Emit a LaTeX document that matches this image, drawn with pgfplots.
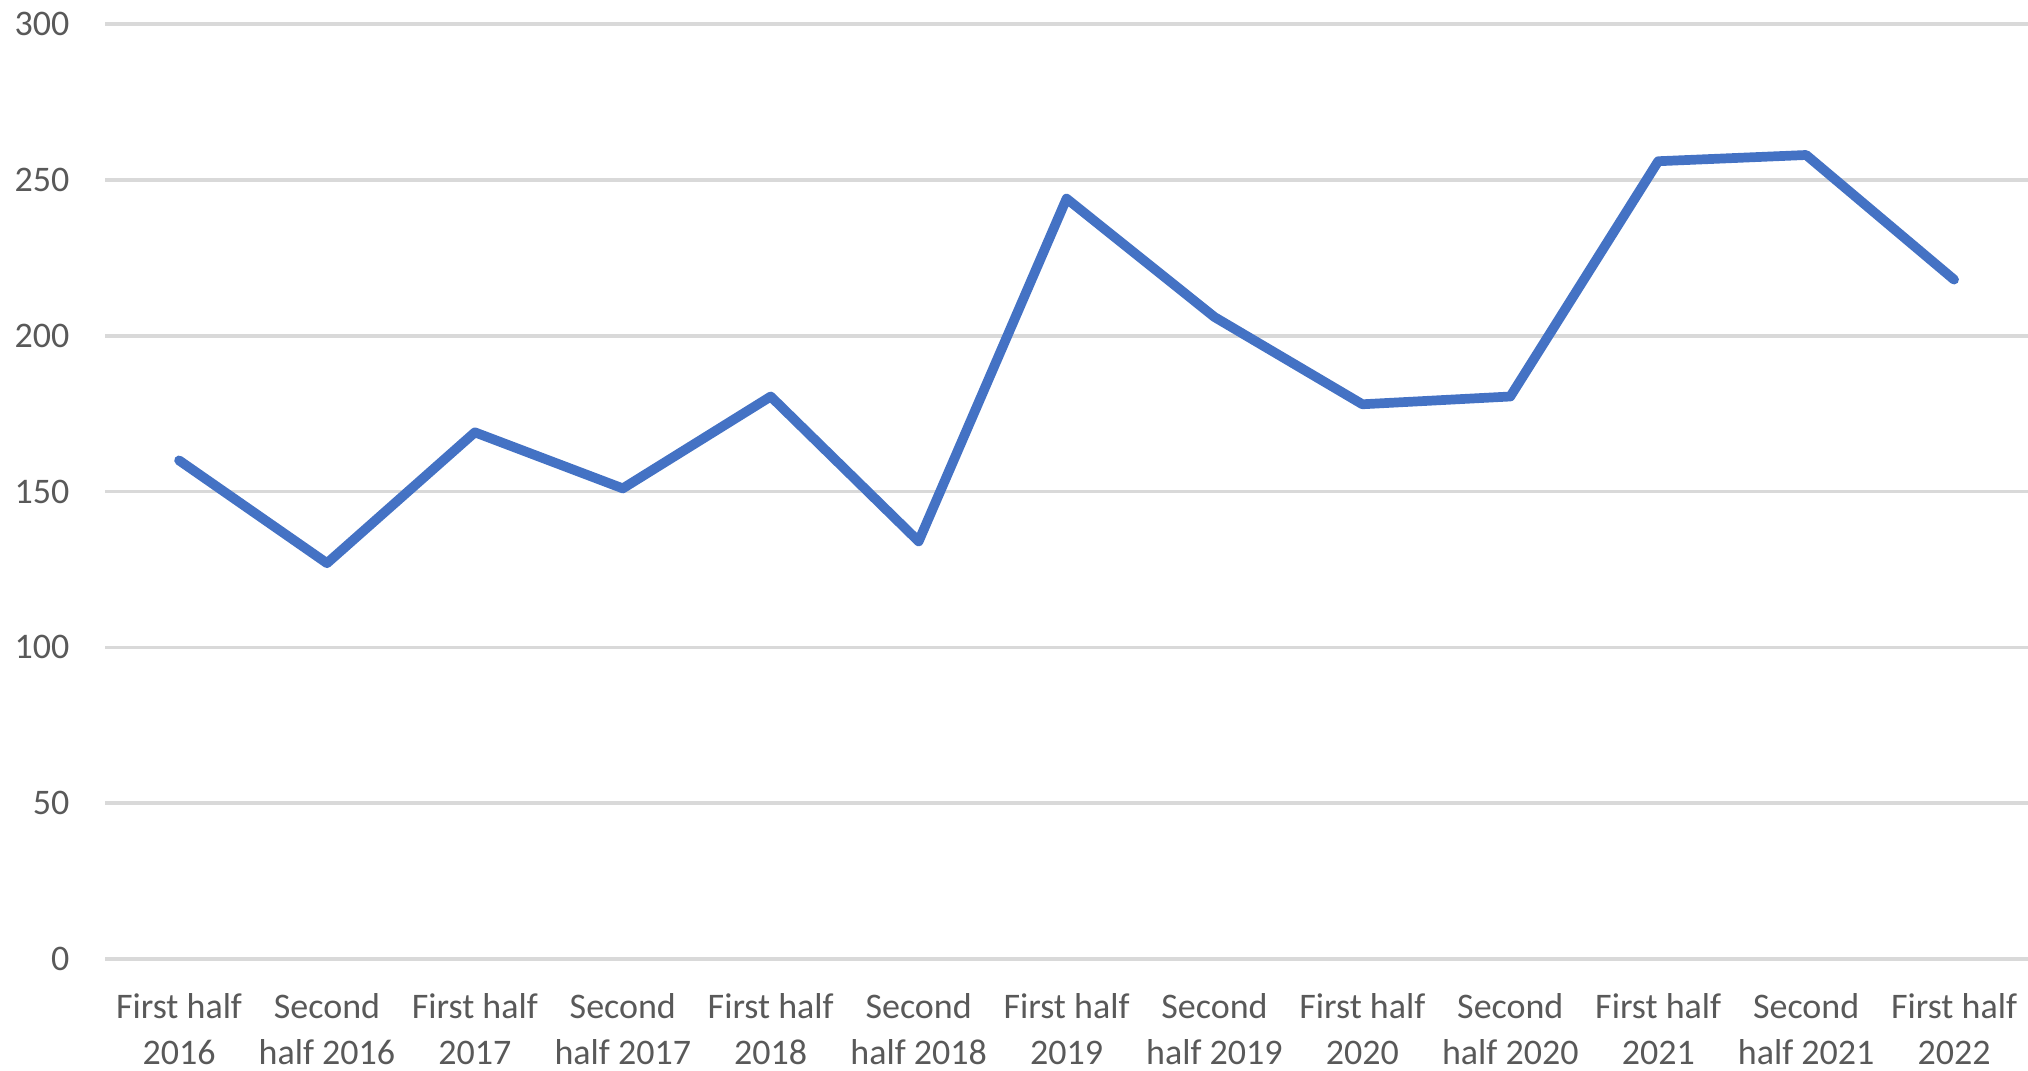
\documentclass[border=0pt]{standalone}
\usepackage{fontspec}
\setmainfont{Carlito}
\usepackage{pgfplots}
\pgfplotsset{compat=1.18}
\definecolor{txtgray}{HTML}{595959}
\definecolor{gridgray}{HTML}{D9D9D9}
\definecolor{lineblue}{HTML}{4472C4}
\begin{document}
\begin{tikzpicture}
\begin{axis}[
  scale only axis,
  width=534.2pt, height=259.7pt,
  xmin=-0.5, xmax=12.5,
  ymin=0, ymax=300,
  ytick={0,50,100,150,200,250,300},
  xtick={0,1,2,3,4,5,6,7,8,9,10,11,12},
  xticklabels={{First half\\2016},{Second\\half 2016},{First half\\2017},{Second\\half 2017},{First half\\2018},{Second\\half 2018},{First half\\2019},{Second\\half 2019},{First half\\2020},{Second\\half 2020},{First half\\2021},{Second\\half 2021},{First half\\2022}},
  axis line style={draw=none},
  major tick length=0pt,
  tick style={draw=none},
  ymajorgrids,
  grid style={color=gridgray, line width=1pt},
  /pgf/number format/assume math mode=true,
  ticklabel style={font=\fontsize{10}{12.8}\selectfont, text=txtgray},
  xticklabel style={align=center, yshift=-6pt},
  yticklabel style={xshift=-6.4pt},
  clip=false,
]
\addplot[color=lineblue, line width=2.7pt, line cap=round, line join=round, mark=none]
coordinates {
(0,160) (1,127) (2,169) (3,151) (4,180.5) (5,134) (6,244) (7,206) (8,178) (9,180.5) (10,256) (11,258) (12,218)
};
\end{axis}
\pgfresetboundingbox
\path ([shift={(-29.2pt,-31.1pt)}]current axis.south west) rectangle ([shift={(0pt,6.7pt)}]current axis.north east);
\end{tikzpicture}
\end{document}
